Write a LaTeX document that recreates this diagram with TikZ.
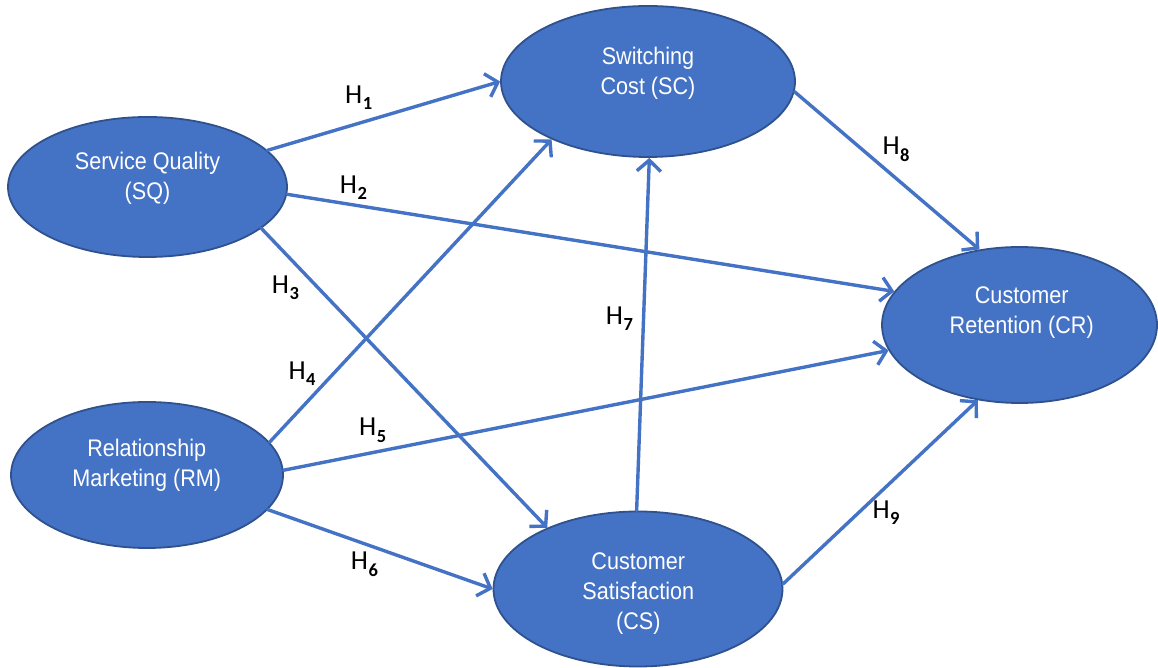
\documentclass[tikz,border=0pt]{standalone}
\usepackage{fontspec}
\setmainfont{Liberation Sans}
\newfontfamily\boxfont[FakeStretch=0.9]{Liberation Sans}
\newfontfamily\hfont{Carlito}
\usetikzlibrary{shapes.geometric,arrows.meta}
\definecolor{fillblue}{HTML}{4472C4}
\definecolor{edgeblue}{HTML}{2F528F}
\newcommand{\hsub}[1]{\kern0.5pt\raisebox{-6.5pt}{\fontsize{18.5}{18.5}\selectfont\bfseries #1}}
\begin{document}
\begin{tikzpicture}[x=1pt,y=1pt,
  construct/.style={ellipse, fill=fillblue, draw=edgeblue, line width=1.8pt, inner sep=0pt},
  ctext/.style={text=white, align=center, inner sep=0pt, font=\boxfont\fontsize{24}{30}\selectfont},
  rel/.style={draw=fillblue, line width=3.4pt, line cap=round, -{Straight Barb[length=11pt,width=24pt,line width=3.4pt]}},
  hlab/.style={anchor=base west, inner sep=0pt, font=\hfont\fontsize{27.5}{27.5}\selectfont}]
\useasboundingbox (0,0) rectangle (1158,668);
% constructs
\node[construct, minimum width=279pt, minimum height=140pt] (SQ) at (147.5,481) {};
\node[construct, minimum width=294pt, minimum height=151pt] (SC) at (648,586.5) {};
\node[construct, minimum width=275pt, minimum height=156pt] (CR) at (1019.5,343) {};
\node[construct, minimum width=289pt, minimum height=155pt] (CS) at (638,79) {};
\node[construct, minimum width=272pt, minimum height=146pt] (RM) at (147,193) {};
% texts
\node[ctext] (SQt) at (147.5,489.5) {Service Quality\\(SQ)};
\node[ctext] (SCt) at (648,595) {Switching\\Cost (SC)};
\node[ctext] (CRt) at (1021.7,355) {Customer\\Retention (CR)};
\node[ctext] (CSt) at (638.3,74) {Customer\\Satisfaction\\(CS)};
\node[ctext] (RMt) at (146.7,202.5) {Relationship\\Marketing (RM)};
% paths
\draw[rel] (SQ.17.8) -- (SC.180);
\draw[rel] (SQ.-3.3) -- (CR.165.8);
\draw[rel] (SQ.-20.9) -- (CS.146.3);
\draw[rel] (RM.15.6) -- (SC.211.4);
\draw[rel] (RM.2) -- (CR.191.2);
\draw[rel] (RM.-16.7) -- (CS.180);
\draw[rel] (CS.91.4) -- (SC.271.5);
\draw[rel] (SC.-4.5) -- (CR.118.3);
\draw[rel] (CS.2.4) -- (CR.241);
% labels
\node[hlab] (h1) at (345,564.7) {H\hsub{1}};
\node[hlab] (h2) at (339.7,474.7) {H\hsub{2}};
\node[hlab] (h3) at (271.7,374.7) {H\hsub{3}};
\node[hlab] (h4) at (288.3,288.7) {H\hsub{4}};
\node[hlab] (h5) at (359,232) {H\hsub{5}};
\node[hlab] (h6) at (350.7,98) {H\hsub{6}};
\node[hlab] (h7) at (605.7,343.7) {H\hsub{7}};
\node[hlab] (h8) at (882.3,513) {H\hsub{8}};
\node[hlab] (h9) at (872.3,149.7) {H\hsub{9}};
\end{tikzpicture}
\end{document}
